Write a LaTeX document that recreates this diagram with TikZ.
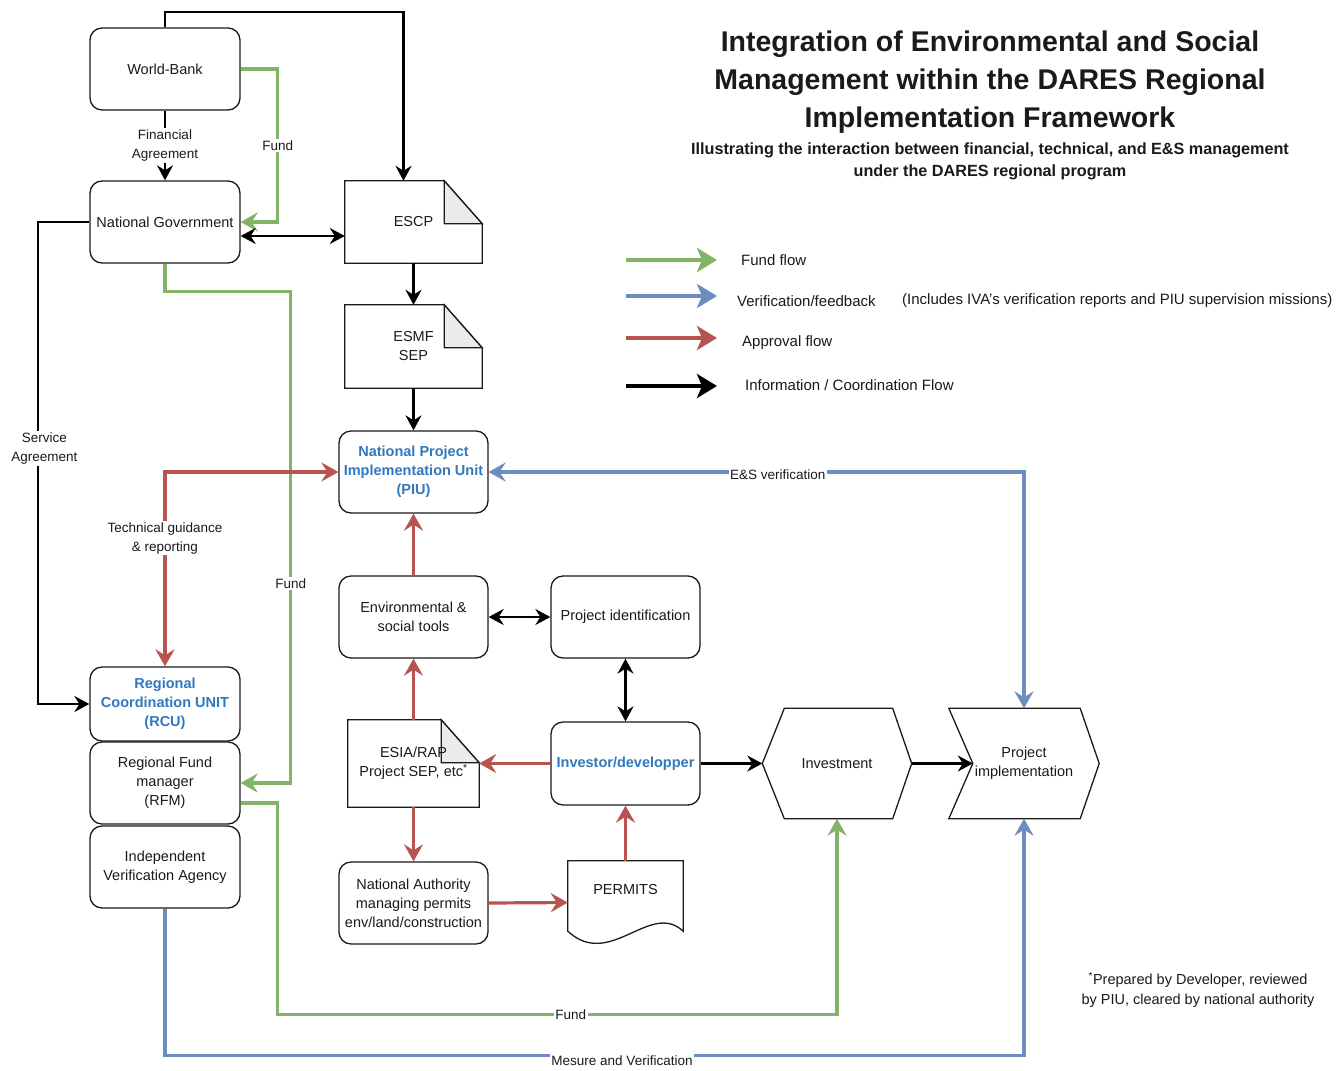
\documentclass[tikz,border=0pt]{standalone}
\usepackage{fontspec}
\setmainfont{Liberation Sans}
\usetikzlibrary{arrows.meta,calc}
\pgfdeclarelayer{background}
\pgfsetlayers{background,main}
\definecolor{fgreen}{HTML}{82B366}
\definecolor{fblue}{HTML}{6C8EBF}
\definecolor{fred}{HTML}{B85450}
\definecolor{tblue}{HTML}{3278BE}
\definecolor{foldgray}{HTML}{EBEBEB}
\definecolor{ink}{HTML}{1A1A1A}
\begin{document}
\begin{tikzpicture}[x=1pt,y=-1pt,
  box/.style={draw=ink, rounded corners=12pt, line width=1.3pt, minimum width=150pt, minimum height=82pt,
    align=center, inner sep=0pt, font=\fontsize{14.5}{19}\selectfont, text=ink},
  plain/.style={align=center, inner sep=0pt, font=\fontsize{14.5}{19}\selectfont, text=ink},
  bluetxt/.style={text=tblue, font=\fontsize{14.5}{19}\selectfont\bfseries},
  lbl/.style={fill=white, inner sep=1.5pt, align=center, font=\fontsize{13.5}{19}\selectfont, text=ink},
  docline/.style={draw=ink, line width=1.3pt, fill=white, line join=miter},
  docfold/.style={draw=ink, line width=1.3pt, fill=foldgray},
  btip/.tip={Stealth[length=15pt,width=16pt,inset=5pt]},
  ctip/.tip={Stealth[length=17pt,width=19pt,inset=6pt]},
  blk/.style={draw=black, line width=2.2pt, -btip},
  blkd/.style={draw=black, line width=2.2pt, btip-btip},
  grn/.style={draw=fgreen, line width=3.2pt, -ctip},
  rd/.style={draw=fred, line width=3.2pt, -ctip},
  rdd/.style={draw=fred, line width=3.2pt, ctip-ctip},
  blu/.style={draw=fblue, line width=3.2pt, -ctip},
  blud/.style={draw=fblue, line width=3.2pt, ctip-ctip},
  lgarrow/.style={line width=4.5pt, -{Stealth[length=20pt,width=24pt,inset=5pt]}},
  lgtext/.style={anchor=west, inner sep=0pt, font=\fontsize{15}{19}\selectfont, text=ink},
]
\useasboundingbox (0,0) rectangle (1337,1070);
\begin{pgfonlayer}{background}
\fill[white] (0,0) rectangle (1337,1070);
\end{pgfonlayer}

% title
\node[align=center, font=\fontsize{28.5}{38}\selectfont\bfseries, text=ink] (title) at (990,82)
  {Integration of Environmental and Social\\Management within the DARES Regional\\Implementation Framework};
\node[align=center, font=\fontsize{16.2}{22}\selectfont\bfseries, text=ink] (subtitle) at (990,161)
  {Illustrating the interaction between financial, technical, and E\&S management\\under the DARES regional program};

% legend
\coordinate (lg1a) at (626,260); \coordinate (lg1b) at (717,260);
\coordinate (lg2a) at (626,296); \coordinate (lg2b) at (717,296);
\coordinate (lg3a) at (626,338); \coordinate (lg3b) at (717,338);
\coordinate (lg4a) at (626,386); \coordinate (lg4b) at (717,386);
\draw[lgarrow, draw=fgreen] (lg1a) -- (lg1b);
\draw[lgarrow, draw=fblue] (lg2a) -- (lg2b);
\draw[lgarrow, draw=fred] (lg3a) -- (lg3b);
\draw[lgarrow, draw=black] (lg4a) -- (lg4b);
\node[lgtext] (lt1) at (741,260) {Fund flow};
\node[lgtext] (lt2) at (737,301) {Verification/feedback};
\node[lgtext] (lt2b) at (902,301) {(Includes IVA's verification reports and PIU supervision missions)};
\node[lgtext] (lt3) at (742,343) {Approval flow};
\node[lgtext] (lt4) at (745,385) {Information / Coordination Flow};

% nodes
\node[box] (wb) at (165,69) {World-Bank};
\node[box] (ng) at (165,222) {National Government};
\node[plain, minimum width=137pt, minimum height=82pt] (escp) at (413.5,222) {ESCP};
\node[plain, minimum width=137pt, minimum height=83pt] (esmf) at (413.5,346.5) {ESMF\\SEP};
\node[box, minimum width=149pt, bluetxt] (piu) at (413.5,472) {National Project\\Implementation Unit\\(PIU)};
\node[box, minimum width=149pt] (est) at (413.5,617) {Environmental \&\\social tools};
\node[box, minimum width=149pt] (pid) at (625.5,617) {Project identification};
\node[box, minimum width=149pt, minimum height=83pt, bluetxt] (inv) at (625.5,763.5) {Investor/developper};
\node[plain, minimum width=131pt, minimum height=87pt] (esia) at (413.5,763.5) {ESIA/RAP\\Project SEP, etc\textsuperscript{*}};
\node[box, minimum width=149pt] (nat) at (413.5,903) {National Authority\\managing permits\\env/land/construction};
\node[plain, minimum width=115pt, minimum height=83pt] (perm) at (625.5,902.5) {};
\node[plain] (permlbl) at (625.5,889) {PERMITS};
\node[plain, minimum width=149pt, minimum height=110pt] (invest) at (837,763.5) {Investment};
\node[plain, minimum width=150pt, minimum height=110pt] (pimpl) at (1024,763.5) {Project\\implementation};
\node[box, minimum height=74pt, bluetxt] (rcu) at (165,704) {Regional\\Coordination UNIT\\(RCU)};
\node[box] (rfm) at (165,783) {Regional Fund\\manager\\(RFM)};
\node[box] (iva) at (165,867) {Independent\\Verification Agency};

% footnote
\node[plain, font=\fontsize{14.5}{20}\selectfont] (foot) at (1198,990)
  {\textsuperscript{*}Prepared by Developer, reviewed\\by PIU, cleared by national authority};

% shape outlines behind texts
\begin{pgfonlayer}{background}
\foreach \n in {escp,esmf,esia}{
  \draw[docline] (\n.north west) -- ($(\n.north east)+(-38pt,0pt)$) -- ($(\n.north east)+(0pt,-43pt)$)
    -- (\n.south east) -- (\n.south west) -- cycle;
  \draw[docfold] ($(\n.north east)+(-38pt,0pt)$) -- ($(\n.north east)+(-38pt,-43pt)$)
    -- ($(\n.north east)+(0pt,-43pt)$) -- cycle;
}
\draw[docline] (invest.west) -- ($(invest.north west)+(22pt,0pt)$) -- ($(invest.north east)+(-19pt,0pt)$)
  -- (invest.east) -- ($(invest.south east)+(-19pt,0pt)$) -- ($(invest.south west)+(22pt,0pt)$) -- cycle;
\draw[docline] (pimpl.north west) -- ($(pimpl.north east)+(-19pt,0pt)$) -- (pimpl.east)
  -- ($(pimpl.south east)+(-19pt,0pt)$) -- (pimpl.south west) -- ($(pimpl.west)+(24pt,0pt)$) -- cycle;
\draw[docline] (perm.north west) -- (perm.north east) -- ($(perm.south east)+(0pt,13pt)$)
  .. controls ($(perm.south east)+(-33pt,44pt)$) and ($(perm.south west)+(42pt,-26pt)$) .. ($(perm.south west)+(0pt,13pt)$)
  -- cycle;
\end{pgfonlayer}

% connectors
\draw[blk] (wb.north) -- ++(0,-15) -| ($(escp.north)+(-10pt,0pt)$);
\draw[blk] (wb) -- node[lbl]{Financial\\Agreement} (ng);
\draw[grn] (wb.east) -- ++(37,0) -- node[lbl]{Fund} ++(0,153) -- (ng.east);
\draw[blkd] ($(ng.east)+(0pt,-14pt)$) -- ($(escp.west)+(0pt,-14pt)$);
\draw[blk] (escp.south) -- (esmf.north);
\draw[blk] (esmf.south) -- (piu.north);
\draw[blk] (ng.west) -- ++(-51,0) |- node[lbl, pos=0.235, xshift=6pt]{Service\\Agreement} (rcu.west);
\draw[grn] (ng.south) -- ++(0,28) -| node[lbl, pos=0.797]{Fund} ($(rfm.east)+(50pt,0pt)$) -- (rfm.east);
\draw[rdd] (rcu.north) |- node[lbl, pos=0.33]{Technical guidance\\\& reporting} (piu.west);
\draw[blud] (pimpl.north) |- node[lbl, pos=0.73, yshift=-3pt]{E\&S verification} (piu.east);
\draw[rd] (est.north) -- (piu.south);
\draw[blkd] (est.east) -- (pid.west);
\draw[blkd] (pid.south) -- (inv.north);
\draw[rd] (esia.north) -- (est.south);
\draw[rd] (inv.west) -- (esia.east);
\draw[rd] (esia.south) -- (nat.north);
\draw[rd] (nat.east) -- (perm.west);
\draw[rd] (perm.north) -- (inv.south);
\draw[blk] (inv.east) -- (invest.west);
\draw[blk] (invest.east) -- ($(pimpl.west)+(24pt,0pt)$);
\draw[grn] ($(rfm.east)+(0pt,-20pt)$) -- ++(37,0) |- node[lbl, pos=0.762]{Fund} ($(invest.south)+(0pt,-195.5pt)$) -- (invest.south);
\draw[blu] (iva.south) |- node[lbl, pos=0.766, yshift=-5pt]{Mesure and Verification} ($(pimpl.south)+(0pt,-236.5pt)$) -- (pimpl.south);
\end{tikzpicture}
\end{document}
